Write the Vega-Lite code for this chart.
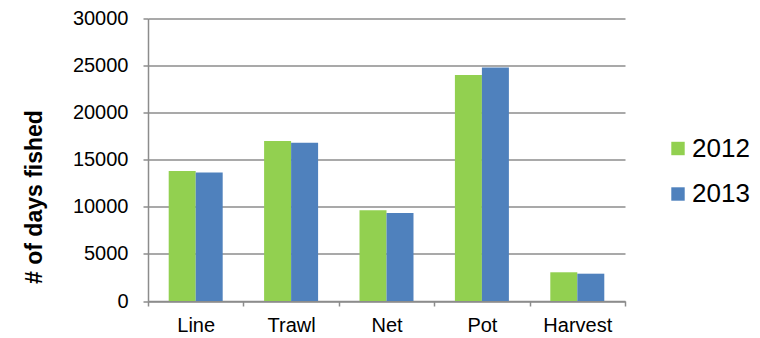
{
  "$schema": "https://vega.github.io/schema/vega-lite/v6.json",
  "width": 477,
  "height": 282.5,
  "autosize": {"type": "none"},
  "padding": {"left": 148, "top": 18.5, "right": 135, "bottom": 37},
  "background": "white",
  "config": {
    "view": {"stroke": null},
    "font": "Liberation Sans"
  },
  "data": {
    "values": [
      {"gear": "Line", "year": "2012", "days": 13800},
      {"gear": "Line", "year": "2013", "days": 13650},
      {"gear": "Trawl", "year": "2012", "days": 17000},
      {"gear": "Trawl", "year": "2013", "days": 16800},
      {"gear": "Net", "year": "2012", "days": 9650},
      {"gear": "Net", "year": "2013", "days": 9350},
      {"gear": "Pot", "year": "2012", "days": 24000},
      {"gear": "Pot", "year": "2013", "days": 24800},
      {"gear": "Harvest", "year": "2012", "days": 3050},
      {"gear": "Harvest", "year": "2013", "days": 2900}
    ]
  },
  "mark": {"type": "bar"},
  "encoding": {
    "x": {
      "field": "gear",
      "type": "nominal",
      "sort": ["Line", "Trawl", "Net", "Pot", "Harvest"],
      "scale": {"paddingInner": 0, "paddingOuter": 0},
      "axis": {
        "title": null,
        "tickBand": "extent",
        "labelAngle": 0,
        "labelFontSize": 20,
        "labelColor": "#000000",
        "labelPadding": 9,
        "tickSize": 5,
        "tickColor": "#8c8c8c",
        "tickWidth": 1.5,
        "domainColor": "#8c8c8c",
        "domainWidth": 1.5
      }
    },
    "xOffset": {
      "field": "year",
      "type": "nominal",
      "scale": {"paddingInner": 0, "paddingOuter": 0.767}
    },
    "y": {
      "field": "days",
      "type": "quantitative",
      "scale": {"domain": [0, 30000]},
      "axis": {
        "title": "# of days fished",
        "titleFontSize": 23,
        "titleFontWeight": "bold",
        "titleColor": "#000000",
        "titlePadding": 26,
        "titleY": 178,
        "format": "d",
        "values": [0, 5000, 10000, 15000, 20000, 25000, 30000],
        "labelFontSize": 20,
        "labelColor": "#000000",
        "labelPadding": 15,
        "tickSize": 5,
        "tickColor": "#8c8c8c",
        "tickWidth": 1.5,
        "domainColor": "#8c8c8c",
        "domainWidth": 1.5,
        "grid": true,
        "gridColor": "#8c8c8c",
        "gridWidth": 1.5
      }
    },
    "color": {
      "field": "year",
      "type": "nominal",
      "scale": {"domain": ["2012", "2013"], "range": ["#92d050", "#4f81bd"]},
      "legend": {
        "title": null,
        "orient": "none",
        "legendX": 517,
        "legendY": 117,
        "symbolType": "square",
        "symbolSize": 180,
        "symbolStrokeWidth": 0,
        "labelFontSize": 26,
        "labelColor": "#000000",
        "labelOffset": 1,
        "rowPadding": 19.5
      }
    }
  }
}
